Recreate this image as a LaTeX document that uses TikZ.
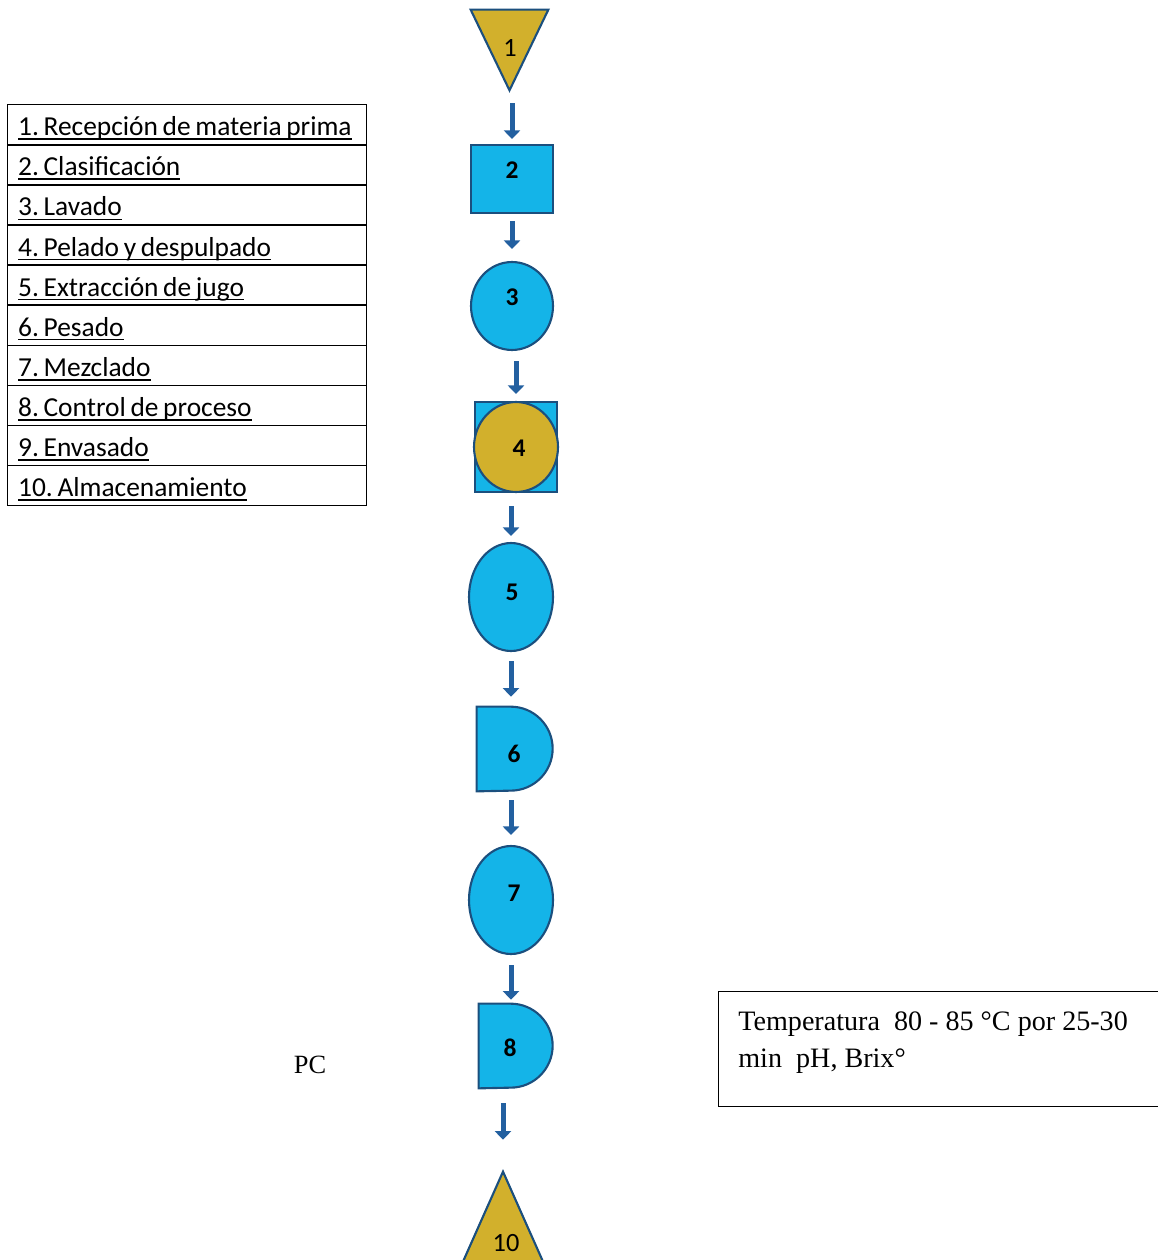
\documentclass[tikz,border=0pt]{standalone}
\usepackage{fontspec}
\setmainfont{Liberation Serif}
\newfontfamily\legendfont{Carlito}
\usetikzlibrary{arrows.meta,shapes.geometric}

\definecolor{cyanfill}{HTML}{14B4E8}
\definecolor{goldfill}{HTML}{D2B02C}
\definecolor{edgeblue}{HTML}{1B4F7E}
\definecolor{arrowblue}{HTML}{2360A0}

% legend entry: tight word spacing, underline at a fixed depth below the baseline
\newcommand\undl[1]{\spaceskip=0.17em plus 0.05em\relax
  \setbox0\hbox{#1}\rlap{\rule[-2.4pt]{\wd0}{0.9pt}}\box0}

\begin{document}
\frenchspacing
\begin{tikzpicture}[x=0.02cm,y=-0.02cm,
  every node/.style={inner sep=0pt},
  bluepart/.style={fill=cyanfill,draw=edgeblue,line width=1.2pt},
  goldpart/.style={fill=goldfill,draw=edgeblue,line width=1.2pt},
  num/.style={font=\legendfont\fontsize{15}{16}\selectfont,text=black},
  boldnum/.style={font=\legendfont\bfseries\fontsize{14.5}{16}\selectfont,text=black},
  flow/.style={draw=arrowblue,line width=0.1cm,-{Triangle[width=0.32cm,length=0.17cm]}},
  legrow/.style={draw=black,line width=0.8pt,anchor=north west,
    minimum width=7.18cm,minimum height=0.802cm,text width=6.76cm,
    inner xsep=0.21cm,inner ysep=0pt,align=left,text height=0.6cm,text depth=0.16cm,
    font=\legendfont\fontsize{15.6}{16}\selectfont},
  note/.style={font=\fontsize{16}{21.5}\selectfont,align=left}
]
\useasboundingbox (0,0) rectangle (1158,1260);

% ---- process symbols ----
\node[minimum width=1.54cm,minimum height=1.6cm] (n1) at (509.5,50) {};
\draw[goldpart] (n1.north west) -- (n1.north east) -- (n1.south) -- cycle;

\node[bluepart,rectangle,minimum width=1.64cm,minimum height=1.36cm] (n2) at (512,179) {};

\node[bluepart,ellipse,minimum width=1.64cm,minimum height=1.76cm] (n3) at (512,306) {};

\node[bluepart,rectangle,minimum width=1.64cm,minimum height=1.8cm] (n4) at (516,447) {};
\draw[goldpart] (n4.center) ellipse [x radius=0.84cm,y radius=0.9cm];

\node[bluepart,ellipse,minimum width=1.68cm,minimum height=2.16cm] (n5) at (511,597) {};

\node[minimum width=1.52cm,minimum height=1.68cm] (n6) at (515,749) {};
\draw[bluepart] (n6.north west) -- ++(34,0) arc [start angle=90,end angle=-90,radius=0.84cm]
  -- (n6.south west) -- cycle;

\node[bluepart,ellipse,minimum width=1.68cm,minimum height=2.16cm] (n7) at (511,900) {};

\node[minimum width=1.48cm,minimum height=1.68cm] (n8) at (516,1046) {};
\draw[bluepart] (n8.north west) -- ++(32,0) arc [start angle=90,end angle=-90,radius=0.84cm]
  -- (n8.south west) -- cycle;

\node[minimum width=1.6cm,minimum height=1.8cm] (n10) at (503,1217) {};
\draw[goldpart] (n10.north) -- (n10.south east) -- (n10.south west) -- cycle;

% ---- step numbers ----
\node[num] (t1) at (510,48) {1};
\node[boldnum] (t2) at (512,170) {2};
\node[boldnum] (t3) at (512,297) {3};
\node[boldnum] (t4) at (519,448) {4};
\node[boldnum] (t5) at (512,592) {5};
\node[boldnum] (t6) at (514,754) {6};
\node[boldnum] (t7) at (514,893) {7};
\node[boldnum] (t8) at (510,1048) {8};
\node[num] (t10) at (506,1243) {10};

% ---- flow arrows ----
\draw[flow,shorten <=0.26cm,shorten >=0.1cm] (n1.south -| n2.north) -- (n2.north);
\draw[flow,shorten <=0.14cm,shorten >=0.24cm] (n2.south) -- (n2.south |- n3.north);
\draw[flow,shorten <=0.2cm,shorten >=0.14cm] (n3.south -| n4.north) -- (n4.north);
\draw[flow,shorten <=0.26cm,shorten >=0.12cm] (n4.south -| n5.north) -- (n5.north);
\draw[flow,shorten <=0.18cm,shorten >=0.2cm] (n5.south) -- (n5.south |- n6.north);
\draw[flow,shorten <=0.18cm,shorten >=0.2cm] (n6.south -| n7.north) -- (n7.north);
\draw[flow,shorten <=0.2cm,shorten >=0.08cm] (n7.south) -- (n7.south |- n8.north);
\draw[flow,shorten <=0.3cm,shorten >=0.64cm] (n8.south -| n10.north) -- (n10.north);

% ---- legend ----
\node[legrow] (r1) at (7,104) {\undl{1. Recepción de materia prima}};
\node[legrow] (r2) at (7,144.1) {\undl{2. Clasificación}};
\node[legrow] (r3) at (7,184.2) {\undl{3. Lavado}};
\node[legrow] (r4) at (7,224.3) {\undl{4. Pelado y despulpado}};
\node[legrow] (r5) at (7,264.4) {\undl{5. Extracción de jugo}};
\node[legrow] (r6) at (7,304.5) {\undl{6. Pesado}};
\node[legrow] (r7) at (7,344.6) {\undl{7. Mezclado}};
\node[legrow] (r8) at (7,384.7) {\undl{8. Control de proceso}};
\node[legrow] (r9) at (7,424.8) {\undl{9. Envasado}};
\node[legrow] (r10) at (7,464.9) {\undl{10. Almacenamiento}};

% ---- control point and its conditions ----
\node[font=\fontsize{15}{18}\selectfont] (pc) at (310,1065) {PC};
\node[draw=black,line width=0.8pt,anchor=north west,minimum width=9.4cm,minimum height=2.3cm] (tb) at (718,991) {};
\node[note,anchor=north west] (tbtext) at (738,1011)
  {Temperatura\ \ 80 - 85 °C por 25-30\\min\ \ pH, Brix°};
\end{tikzpicture}
\end{document}
